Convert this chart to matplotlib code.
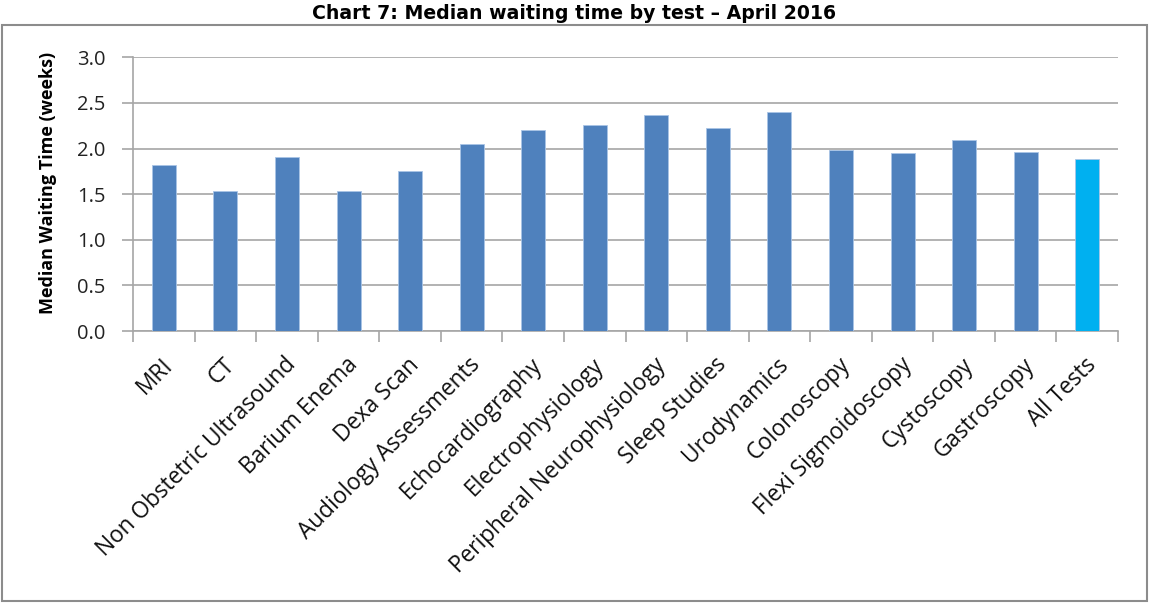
import matplotlib.pyplot as plt
from matplotlib.patches import Rectangle
from matplotlib.transforms import ScaledTranslation
import numpy as np

# Data
tests = ['MRI', 'CT', 'Non Obstetric Ultrasound', 'Barium Enema', 'Dexa Scan',
         'Audiology Assessments', 'Echocardiography', 'Electrophysiology',
         'Peripheral Neurophysiology', 'Sleep Studies', 'Urodynamics',
         'Colonoscopy', 'Flexi Sigmoidoscopy', 'Cystoscopy', 'Gastroscopy',
         'All Tests']
weeks = [1.82, 1.54, 1.91, 1.54, 1.75, 2.05, 2.20, 2.26, 2.37, 2.22, 2.40,
         1.98, 1.95, 2.09, 1.96, 1.88]

label_font = ['Open Sans', 'DejaVu Sans']

fig = plt.figure(figsize=(11.49, 6.03), dpi=100)
ax = fig.add_axes([0.1158, 0.451, 0.973 - 0.1158, 0.905 - 0.451])

x = np.arange(len(tests))
colors = ['#4F81BD'] * (len(tests) - 1) + ['#00B0F0']
ax.bar(x, weeks, width=0.39, color=colors, edgecolor='#A9C4E6', linewidth=0.6, zorder=3)

ax.set_xlim(-0.5, len(tests) - 0.5)
ax.set_ylim(0, 3.0)
yt = np.arange(0, 3.01, 0.5)
ax.set_yticks(yt)
ax.set_yticklabels([f'{v:.1f}' for v in yt], fontsize=14.5, family=label_font, color='#222222')
ax.grid(axis='y', color='#A6A6A6', linewidth=1.2, zorder=0)

# tick marks at category boundaries, labels drawn rotated at category centres
ax.set_xticks(np.arange(-0.5, len(tests), 1))
ax.set_xticklabels([])
ax.tick_params(axis='x', length=8, color='#A6A6A6', width=1.2)
ax.tick_params(axis='y', length=8, color='#A6A6A6', width=1.2, pad=12)

offset = ScaledTranslation(-3 / 100, -22 / 100, fig.dpi_scale_trans)
for xi, name in zip(x, tests):
    ax.text(xi, 0, name, transform=ax.get_xaxis_transform() + offset,
            rotation=45, rotation_mode='anchor', ha='right', va='top',
            fontsize=16.3, family=label_font, color='#111111')

for side in ['top', 'right']:
    ax.spines[side].set_visible(False)
for side in ['left', 'bottom']:
    ax.spines[side].set_color('#A6A6A6')
    ax.spines[side].set_linewidth(1.2)

fig.text(0.042, 0.697, 'Median Waiting Time (weeks)', rotation=90, ha='center', va='center',
         fontsize=13, fontweight='bold', family=label_font)

# outer chart border
fig.patches.append(Rectangle((0.002, 0.004), 0.996, 0.955, transform=fig.transFigure,
                             fill=False, edgecolor='#8C8C8C', linewidth=1.5))

fig.text(0.5, 0.977, 'Chart 7: Median waiting time by test \u2013 April 2016',
         ha='center', va='center', fontsize=13.6, fontweight='bold', family='DejaVu Sans')

plt.savefig('out.png', dpi=100)
